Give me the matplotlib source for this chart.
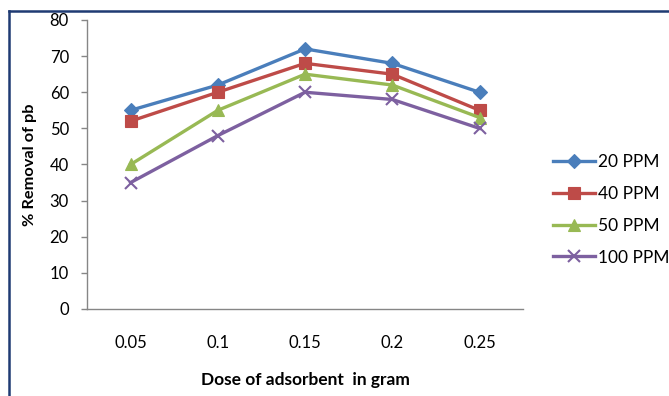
import matplotlib
matplotlib.use('Agg')
import matplotlib.pyplot as plt
from matplotlib.lines import Line2D

dose = ['0.05', '0.1', '0.15', '0.2', '0.25']
ppm20 = [55, 62, 72, 68, 60]
ppm40 = [52, 60, 68, 65, 55]
ppm50 = [40, 55, 65, 62, 53]
ppm100 = [35, 48, 60, 58, 50]
series_names = ['20 PPM', '40 PPM', '50 PPM', '100 PPM']
yticks = [0, 10, 20, 30, 40, 50, 60, 70, 80]

plt.rcParams['font.family'] = ['Lato', 'DejaVu Sans']

fig = plt.figure(figsize=(6.69, 3.96), dpi=100)
ax = fig.add_axes([0.130, 0.2197, 0.652, 0.7298])

x = list(range(len(dose)))
styles = [
    (ppm20, '#4A7EBB', 'D', 7.5),
    (ppm40, '#BE4B48', 's', 8),
    (ppm50, '#98B954', '^', 9),
    (ppm100, '#7D60A0', 'x', 8.5),
]
for (vals, col, mk, ms), name in zip(styles, series_names):
    ax.plot(x, vals, color=col, lw=2.4, marker=mk, markersize=ms,
            markeredgewidth=1.5 if mk == 'x' else 0.8, markeredgecolor=col,
            label=name)

ax.set_xlim(-0.5, len(dose) - 0.5)
ax.set_ylim(0, 80)
ax.set_yticks(yticks)
ax.set_xticks(x)
ax.set_xticklabels(dose)
for s in ['top', 'right']:
    ax.spines[s].set_visible(False)
for s in ['left', 'bottom']:
    ax.spines[s].set_color('#868686')
    ax.spines[s].set_linewidth(1.0)
ax.tick_params(axis='y', colors='#868686', length=4, width=1, labelsize=12,
               labelcolor='black', pad=9)
ax.tick_params(axis='x', length=0, labelsize=12, labelcolor='black', pad=19)

ax.set_ylabel('% Removal of pb', fontsize=11.8, fontweight='bold', labelpad=9)
ax.set_xlabel('Dose of adsorbent  in gram', fontsize=12.5, fontweight='bold',
              labelpad=15)

leg = fig.legend(loc='upper left', bbox_to_anchor=(553 / 669, 0.612),
                 frameon=False, fontsize=12.5, handlelength=2.4,
                 labelspacing=0.92, handletextpad=0.2, borderpad=0,
                 borderaxespad=0)

# chart frame (left and top edges)
fig.add_artist(Line2D([0.0135, 0.0135], [0.0, 0.972], color='#1F3B73',
                      lw=1.8, transform=fig.transFigure))
fig.add_artist(Line2D([0.0135, 1.0], [0.972, 0.972], color='#1F3B73',
                      lw=1.8, transform=fig.transFigure))

fig.savefig('out.png', dpi=100)
